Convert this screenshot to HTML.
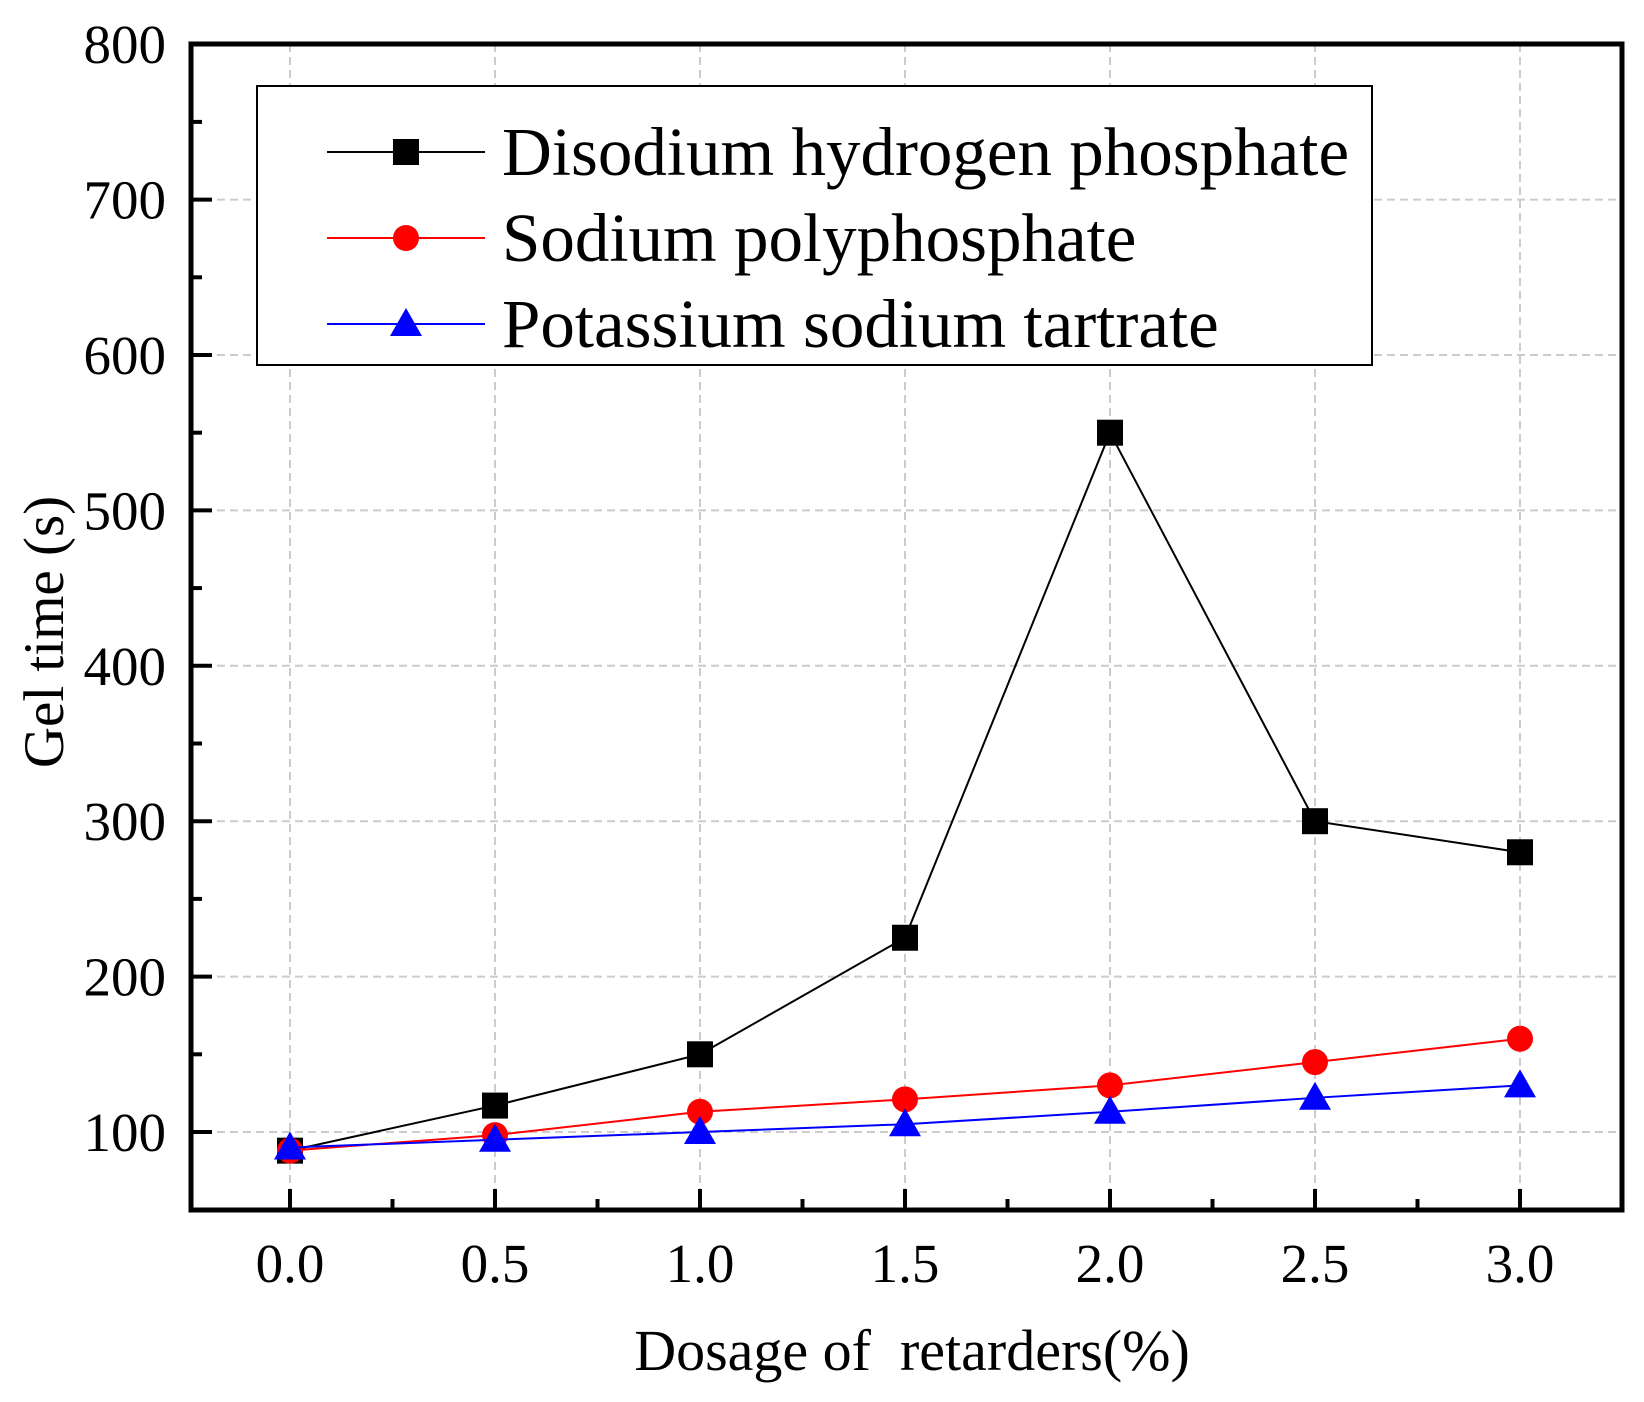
<!DOCTYPE html>
<html><head><meta charset="utf-8"><style>html,body{margin:0;padding:0;background:#fff}svg{display:block}text{font-family:"Liberation Serif",serif;fill:#000}</style></head>
<body>
<svg id="chart" width="1644" height="1402" viewBox="0 0 1644 1402" xmlns="http://www.w3.org/2000/svg"></svg>
<script>
const categories=[0,0.5,1.0,1.5,2.0,2.5,3.0];
const seriesDisodium=[88,117,150,225,550,300,280];
const seriesPoly=[88,98,113,121,130,145,160];
const seriesTartrate=[90,95,100,105,113,122,130];
const yTicks=[100,200,300,400,500,600,700,800];
const xTickLabels=["0.0","0.5","1.0","1.5","2.0","2.5","3.0"];
const legendLabels=["Disodium hydrogen phosphate","Sodium polyphosphate","Potassium sodium tartrate"];

const NS="http://www.w3.org/2000/svg";
const svg=document.getElementById('chart');
const L=191,R=1622,T=44,B=1210;
function xs(v){return 290+v*410;}
function ys(v){return 1132-(v-100)*1.554;}
function el(tag,attrs,parent){const e=document.createElementNS(NS,tag);for(const k in attrs)e.setAttribute(k,attrs[k]);(parent||svg).appendChild(e);return e;}

const grid=el('g',{});


yTicks.forEach(v=>{el('line',{x1:L,x2:R,y1:ys(v),y2:ys(v),stroke:'#ccc','stroke-width':2,'stroke-dasharray':'8,5'},grid);});
categories.forEach(v=>{el('line',{x1:xs(v),x2:xs(v),y1:T,y2:B,stroke:'#ccc','stroke-width':2,'stroke-dasharray':'8,5'},grid);});

const ticks=el('g',{});


yTicks.forEach(v=>{el('line',{x1:L,x2:L+21,y1:ys(v),y2:ys(v),stroke:'#000','stroke-width':4},ticks);
  const t=el('text',{x:166,y:ys(v)+19,'text-anchor':'end','font-size':55},ticks);t.textContent=v;
  
  });
for(let v=150;v<800;v+=100){el('line',{x1:L,x2:L+11,y1:ys(v),y2:ys(v),stroke:'#000','stroke-width':4},ticks);}
categories.forEach((v,i)=>{el('line',{x1:xs(v),x2:xs(v),y1:B,y2:B-21,stroke:'#000','stroke-width':4},ticks);
  const t=el('text',{x:xs(v),y:1282,'text-anchor':'middle','font-size':55},ticks);t.textContent=xTickLabels[i];
  
  });
for(let v=0.25;v<3.3;v+=0.5){el('line',{x1:xs(v),x2:xs(v),y1:B,y2:B-11,stroke:'#000','stroke-width':4},ticks);}

const frame=el('rect',{x:L,y:T,width:R-L,height:B-T,fill:'none',stroke:'#000','stroke-width':5});



function marker(g,type,x,y,color){
  if(type==='sq')el('rect',{x:x-13,y:y-13,width:26,height:26,fill:color},g);
  else if(type==='ci')el('circle',{cx:x,cy:y,r:13,fill:color},g);
  else el('polygon',{points:`${x},${y-16} ${x-16},${y+12} ${x+16},${y+12}`,fill:color},g);
}
const series=[[seriesDisodium,'#000','sq','series-disodium'],[seriesPoly,'#f00','ci','series-polyphosphate'],[seriesTartrate,'#00f','tr','series-tartrate']];
series.forEach(([data,color,type,name])=>{
  const g=el('g',{});
  
  
  el('polyline',{points:data.map((v,i)=>xs(categories[i])+','+ys(v)).join(' '),fill:'none',stroke:color,'stroke-width':2},g);
  data.forEach((v,i)=>marker(g,type,xs(categories[i]),ys(v),color));
});

const lg=el('g',{});


el('rect',{x:257,y:86,width:1115,height:279,fill:'#fff',stroke:'#000','stroke-width':2},lg);
const rows=[152,238,324];
series.forEach(([data,color,type,name],i)=>{
  const e=el('g',{},lg);
  
  
  el('line',{x1:327,x2:485,y1:rows[i],y2:rows[i],stroke:color,'stroke-width':2},e);
  marker(e,type,406,rows[i],color);
  const t=el('text',{x:502,y:rows[i]+23,'font-size':69},e);t.textContent=legendLabels[i];
});

const yt=el('text',{x:0,y:0,'text-anchor':'middle','font-size':57,transform:'translate(63,632) rotate(-90)'});
yt.textContent='Gel time (s)';


const xt=el('text',{x:912,y:1370,'text-anchor':'middle','font-size':58});
xt.textContent='Dosage of \u00a0retarders(%)';


</script>
</body></html>
